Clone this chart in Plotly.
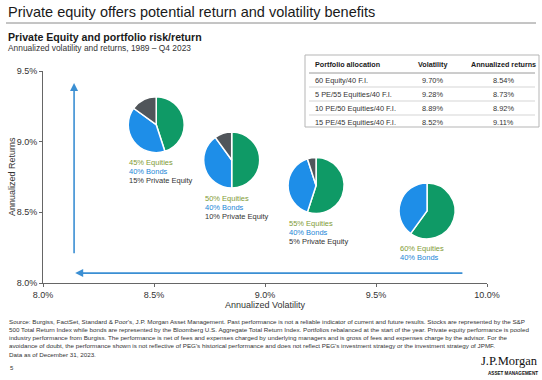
import plotly.graph_objects as go

# ---------------- data ----------------
allocation_labels = ["Equities", "Bonds", "Private Equity"]
# pies as drawn on the chart (left to right)
pie_vol = [8.51, 8.85, 9.23, 9.73]          # annualized volatility (%) position
pie_ret = [9.12, 8.87, 8.69, 8.51]          # annualized returns (%) position
equities_pct = [45, 50, 55, 60]
bonds_pct = [40, 40, 40, 40]
pe_pct = [15, 10, 5, 0]

table_header = ["Portfolio allocation", "Volatility", "Annualized returns"]
table_portfolio = ["60 Equity/40 F.I.", "5 PE/55 Equities/40 F.I.",
                   "10 PE/50 Equities/40 F.I.", "15 PE/45 Equities/40 F.I."]
table_vol = ["9.70%", "9.28%", "8.89%", "8.52%"]
table_ret = ["8.54%", "8.73%", "8.92%", "9.11%"]

x_ticks = [8.0, 8.5, 9.0, 9.5, 10.0]
y_ticks = [8.0, 8.5, 9.0, 9.5]

# ---------------- layout geometry ----------------
W, H = 542, 380
ML, MR, MT, MB = 43, 55, 71, 97
PW, PH = W - ML - MR, H - MT - MB
XR = [8.0, 10.0]
YR = [8.0, 9.5]
R_PX = 28

def px_x(px):
    return (px - ML) / PW

def px_y(py):
    return (H - MB - py) / PH

FONT = "Liberation Sans, Arial, sans-serif"
C_EQ = "#0f9a66"
C_BD = "#1e8ee8"
C_PE = "#50555a"
C_EQ_TXT = "#7f9b36"
C_BD_TXT = "#1b86d6"
C_TXT = "#333333"
C_ARROW = "#3b8fd3"

fig = go.Figure()
# invisible scatter to hold the cartesian axes
fig.add_trace(go.Scatter(x=pie_vol, y=pie_ret, mode="markers",
                         marker=dict(opacity=0), hoverinfo="skip", showlegend=False))

annotations = []
for i in range(len(pie_vol)):
    vals, labs, cols = [], [], []
    for v, l, c in zip([equities_pct[i], bonds_pct[i], pe_pct[i]], allocation_labels, [C_EQ, C_BD, C_PE]):
        if v > 0:
            vals.append(v); labs.append(l); cols.append(c)
    cx = (pie_vol[i] - XR[0]) / (XR[1] - XR[0])
    cy = (pie_ret[i] - YR[0]) / (YR[1] - YR[0])
    hx, hy = R_PX / PW, R_PX / PH
    fig.add_trace(go.Pie(values=vals, labels=labs, sort=False, direction="clockwise", rotation=0,
                         marker=dict(colors=cols, line=dict(color="white", width=1.5)),
                         textinfo="none", showlegend=False,
                         domain=dict(x=[cx - hx, cx + hx], y=[cy - hy, cy + hy])))
    lines = [(f"{equities_pct[i]}% Equities", C_EQ_TXT), (f"{bonds_pct[i]}% Bonds", C_BD_TXT)]
    if pe_pct[i] > 0:
        lines.append((f"{pe_pct[i]}% Private Equity", C_TXT))
    for j, (t, c) in enumerate(lines):
        annotations.append(dict(x=pie_vol[i], y=pie_ret[i], xref="x", yref="y", text=t,
                                showarrow=False, xanchor="left", yanchor="middle",
                                xshift=-R_PX - 1, yshift=-(R_PX + 10 + 9 * j),
                                font=dict(family=FONT, size=7.5, color=c)))

# arrows (data coordinates)
annotations.append(dict(x=8.14, y=9.415, ax=8.14, ay=8.2, xref="x", yref="y", axref="x", ayref="y",
                        showarrow=True, arrowhead=2, arrowsize=1, arrowwidth=1.6, arrowcolor=C_ARROW, text=""))
annotations.append(dict(x=8.145, y=8.07, ax=9.896, ay=8.07, xref="x", yref="y", axref="x", ayref="y",
                        showarrow=True, arrowhead=2, arrowsize=1, arrowwidth=1.6, arrowcolor=C_ARROW, text=""))

# titles
annotations.append(dict(x=px_x(6), y=px_y(12), xref="paper", yref="paper", xanchor="left", yanchor="middle",
                        text="Private equity offers potential return and volatility benefits", showarrow=False,
                        font=dict(family=FONT, size=14.5, color="#1a1a1a")))
annotations.append(dict(x=px_x(6), y=px_y(37), xref="paper", yref="paper", xanchor="left", yanchor="middle",
                        text="<b>Private Equity and portfolio risk/return</b>", showarrow=False,
                        font=dict(family=FONT, size=10.6, color="#1a1a1a")))
annotations.append(dict(x=px_x(6), y=px_y(48), xref="paper", yref="paper", xanchor="left", yanchor="middle",
                        text="Annualized volatility and returns, 1989 – Q4 2023", showarrow=False,
                        font=dict(family=FONT, size=8.4, color=C_TXT)))

# table
shapes = []
shapes.append(dict(type="line", xref="paper", yref="paper", x0=px_x(6), x1=px_x(536), y0=px_y(23), y1=px_y(23),
                   line=dict(color="#8a8a8a", width=1)))
shapes.append(dict(type="rect", xref="paper", yref="paper", x0=px_x(305), x1=px_x(539), y0=px_y(55), y1=px_y(127),
                   line=dict(color="#b5b5b5", width=1), fillcolor="white", layer="below"))
for k, ly in enumerate([73, 87, 101, 115]):
    shapes.append(dict(type="line", xref="paper", yref="paper", x0=px_x(309), x1=px_x(535), y0=px_y(ly), y1=px_y(ly),
                       line=dict(color="#9a9a9a" if k == 0 else "#d5d5d5", width=1)))
col_x = [313, 432, 503]
col_anchor = ["left", "center", "center"]
for c, h in enumerate(table_header):
    annotations.append(dict(x=px_x(col_x[c]), y=px_y(65), xref="paper", yref="paper", xanchor=col_anchor[c],
                            yanchor="middle", text=f"<b>{h}</b>", showarrow=False,
                            font=dict(family=FONT, size=7.2, color="#1a1a1a")))
for r in range(len(table_portfolio)):
    ry = 80 + 14 * r
    for c, t in enumerate([table_portfolio[r], table_vol[r], table_ret[r]]):
        annotations.append(dict(x=px_x(col_x[c]), y=px_y(ry), xref="paper", yref="paper", xanchor=col_anchor[c],
                                yanchor="middle", text=t, showarrow=False,
                                font=dict(family=FONT, size=7.4, color=C_TXT)))

# axis titles
annotations.append(dict(x=0.5, y=px_y(305), xref="paper", yref="paper", xanchor="center", yanchor="middle",
                        text="Annualized Volatility", showarrow=False,
                        font=dict(family=FONT, size=9, color=C_TXT)))
annotations.append(dict(x=px_x(12), y=0.5, xref="paper", yref="paper", xanchor="center", yanchor="middle",
                        text="Annualized Returns", showarrow=False, textangle=-90,
                        font=dict(family=FONT, size=9, color=C_TXT)))

# footnote
foot = ("Source: Burgiss, FactSet, Standard & Poor's, J.P. Morgan Asset Management. Past performance is not a reliable indicator of current and future results. Stocks are represented by the S&P<br>"
        "500 Total Return Index while bonds are represented by the Bloomberg U.S. Aggregate Total Return Index. Portfolios rebalanced at the start of the year. Private equity performance is pooled<br>"
        "industry performance from Burgiss. The performance is net of fees and expenses charged by underlying managers and is gross of fees and expenses charge by the advisor. For the<br>"
        "avoidance of doubt, the performance shown is not reflective of PEG's historical performance and does not reflect PEG's investment strategy or the investment strategy of JPMF.<br>"
        "Data as of December 31, 2023.")
annotations.append(dict(x=px_x(7), y=px_y(316), xref="paper", yref="paper", xanchor="left", yanchor="top",
                        text=foot, showarrow=False, align="left",
                        font=dict(family=FONT, size=6.25, color=C_TXT)))
annotations.append(dict(x=px_x(8), y=px_y(368), xref="paper", yref="paper", xanchor="left", yanchor="middle",
                        text="5", showarrow=False, font=dict(family=FONT, size=6, color=C_TXT)))
annotations.append(dict(x=px_x(540), y=px_y(361), xref="paper", yref="paper", xanchor="right", yanchor="middle",
                        text="J.P.Morgan", showarrow=False,
                        font=dict(family="Liberation Serif, DejaVu Serif, serif", size=12.5, color="#111111")))
annotations.append(dict(x=px_x(540), y=px_y(373), xref="paper", yref="paper", xanchor="right", yanchor="middle",
                        text="<b>ASSET MANAGEMENT</b>", showarrow=False,
                        font=dict(family=FONT, size=4.6, color="#111111")))

axis_common = dict(showline=True, linecolor="#666666", linewidth=1, ticks="outside", ticklen=3,
                   tickcolor="#666666", showgrid=False, zeroline=False, automargin=False,
                   tickfont=dict(family=FONT, size=9, color=C_TXT))
fig.update_layout(
    width=W, height=H, margin=dict(l=ML, r=MR, t=MT, b=MB, autoexpand=False),
    paper_bgcolor="white", plot_bgcolor="white",
    xaxis=dict(range=XR, tickvals=x_ticks, ticktext=[f"{v:.1f}%" for v in x_ticks], **axis_common),
    yaxis=dict(range=YR, tickvals=y_ticks, ticktext=[f"{v:.1f}%" for v in y_ticks], **axis_common),
    annotations=annotations, shapes=shapes, showlegend=False,
)

fig.write_html("out.html", config={"displayModeBar": False},
               post_script="document.body.style.margin='0';")
